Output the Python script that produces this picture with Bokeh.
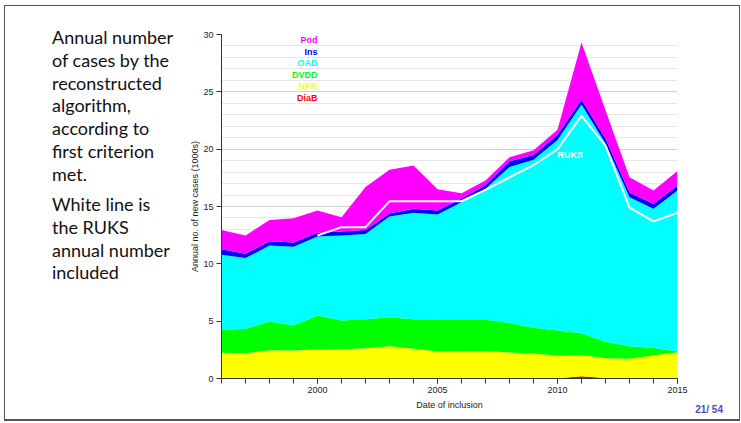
from bokeh.core.properties import value
from bokeh.embed import file_html
from bokeh.layouts import column, row
from bokeh.models import ColumnDataSource, Div, Range1d, SingleIntervalTicker
from bokeh.plotting import figure
from bokeh.resources import INLINE

years = list(range(1996, 2016))

# annual new cases (1000s) by first criterion met, stacked bottom to top
diab = [0, 0, 0, 0, 0, 0, 0, 0, 0, 0, 0, 0, 0, 0, 0.03, 0.2, 0.04, 0, 0, 0]
npr = [2.24, 2.2, 2.47, 2.45, 2.53, 2.55, 2.64, 2.82, 2.6, 2.35,
       2.4, 2.4, 2.27, 2.18, 1.95, 1.86, 1.73, 1.72, 2.0, 2.3]
dvdd = [2.0, 2.13, 2.5, 2.17, 2.96, 2.51, 2.53, 2.53, 2.57, 2.77,
        2.77, 2.72, 2.58, 2.24, 2.2, 1.89, 1.43, 1.1, 0.67, 0.05]
oad = [6.56, 6.17, 6.63, 6.88, 6.89, 7.41, 7.43, 8.77, 9.28, 9.18,
       10.2, 11.43, 13.6, 14.65, 16.62, 19.95, 17.3, 12.98, 12.13, 14.05]
ins = [0.48, 0.37, 0.37, 0.36, 0.32, 0.35, 0.36, 0.28, 0.35, 0.35,
       0.33, 0.3, 0.5, 0.43, 0.45, 0.4, 0.4, 0.4, 0.45, 0.4]
pod = [1.68, 1.6, 1.86, 2.12, 1.95, 1.25, 3.74, 3.8, 3.77, 1.85,
       0.45, 0.41, 0.35, 0.4, 0.45, 5.0, 2.5, 1.35, 1.15, 1.3]

# RUKS annual number included, 2000-2015
ruks_years = years[4:]
ruks = [12.47, 13.2, 13.2, 15.46, 15.46, 15.46, 15.46, 16.45,
        17.55, 18.6, 20.0, 22.9, 20.3, 14.9, 13.7, 14.45]

names = ["DiaB", "NPR", "DVDD", "OAD", "Ins", "Pod"]
colors = ["#ff0000", "#ffff00", "#00ff00", "#00ffff", "#0000ff", "#ff00ff"]

para1 = ["Annual number", "of cases by the", "reconstructed", "algorithm,",
         "according to", "first criterion", "met."]
para2 = ["White line is", "the RUKS", "annual number", "included"]
page_no = "21/ 54"

source = ColumnDataSource(dict(year=years, DiaB=diab, NPR=npr, DVDD=dvdd,
                               OAD=oad, Ins=ins, Pod=pod))

p = figure(width=564, height=413, x_range=Range1d(1996, 2015), y_range=Range1d(0, 30),
           output_backend="svg", toolbar_location=None,
           min_border_left=46, min_border_right=62, min_border_top=28, min_border_bottom=41)
p.outline_line_color = None

p.varea_stack(stackers=names, x="year", color=colors, source=source)
p.line(ruks_years, ruks, color="white", line_width=2)

# legend texts, top one first
leg = ColumnDataSource(dict(x=[2000] * 6, y=[29.5 - i for i in range(6)],
                            text=names[::-1], color=colors[::-1]))
p.text(x="x", y="y", text="text", text_color="color", source=leg,
       text_align="right", text_baseline="middle", text_font=value("Liberation Sans"),
       text_font_style="bold", text_font_size="9px")
p.text(x=[2010], y=[19.5], text=["RUKS"], text_color="white", text_align="left",
       text_baseline="middle", text_font=value("Liberation Sans"),
       text_font_style="bold", text_font_size="9px")

p.xaxis.ticker = SingleIntervalTicker(interval=5, num_minor_ticks=5)
p.yaxis.ticker = SingleIntervalTicker(interval=5, num_minor_ticks=5)
p.xaxis.axis_label = "Date of inclusion"
p.yaxis.axis_label = "Annual no. of new cases (1000s)"
for ax in (p.xaxis, p.yaxis):
    ax.axis_line_color = "#333333"
    ax.major_tick_line_color = "#333333"
    ax.minor_tick_line_color = "#333333"
    ax.major_tick_in = 0
    ax.major_tick_out = 5
    ax.minor_tick_in = 0
    ax.minor_tick_out = 5
    ax.major_label_text_font = "Liberation Sans"
    ax.major_label_text_font_size = "9px"
    ax.major_label_text_color = "#222222"
    ax.major_label_standoff = 3
    ax.axis_label_text_font = "Liberation Sans"
    ax.axis_label_text_font_size = "9px"
    ax.axis_label_text_font_style = "normal"
    ax.axis_label_text_color = "#222222"
    ax.axis_label_standoff = 4
p.yaxis.minor_tick_line_color = None
p.yaxis.axis_label_standoff = 0

p.xgrid.grid_line_color = None
p.ygrid.grid_line_color = "#d0d0d0"
p.ygrid.minor_grid_line_color = "#e6e6e6"

side_html = ('<div style="font-family:Lato; font-size:18px; line-height:22.8px; '
             'color:#111; white-space:nowrap; padding:20px 0 0 47px;">'
             + "<br>".join(para1)
             + '<div style="height:7.5px"></div>'
             + "<br>".join(para2) + "</div>")
side = Div(text=side_html, width=170, height=413, margin=0)

page = Div(text=('<div style="width:564px; box-sizing:border-box; font-family:Liberation Sans; '
                 'font-size:10px; font-weight:bold; color:#4c4cb0; text-align:right; '
                 'padding-right:16px;">' + page_no + "</div>"),
           width=564, height=12, margin=0, styles={"margin-top": "-18px"})

p.margin = 0
root = row(side, column(p, page, spacing=0), spacing=0,
           styles={"border": "1px solid #555", "border-bottom": "2px solid #555",
                   "margin-left": "4px", "margin-top": "5px", "background": "white"})

open("out.html", "w").write(file_html(root, INLINE))
